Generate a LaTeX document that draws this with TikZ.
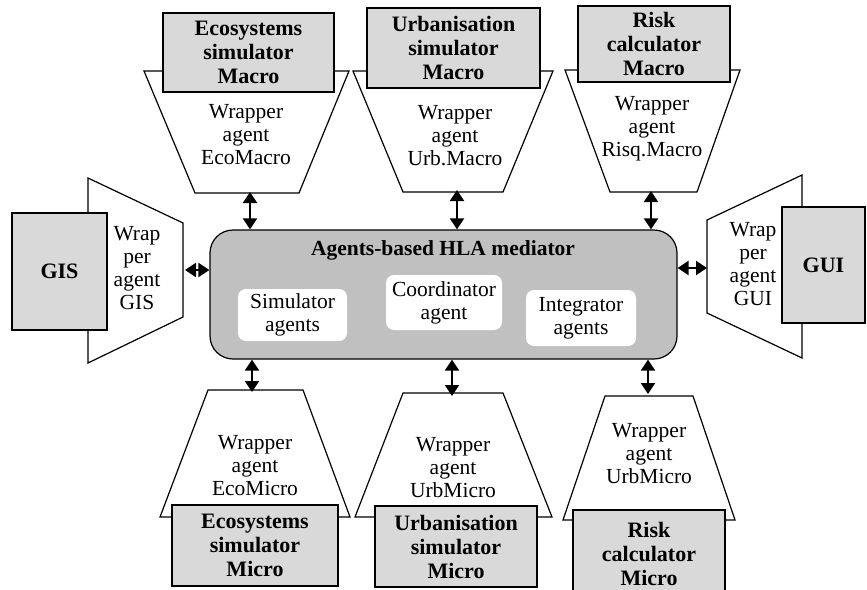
\documentclass[tikz,border=0pt]{standalone}
\usepackage{fontspec}
\setmainfont{Liberation Serif}
\usetikzlibrary{arrows.meta}
\definecolor{BoxGray}{HTML}{D9D9D9}
\definecolor{MedGray}{HTML}{C0C0C0}
\tikzset{every node/.style={font=\fontsize{21.5}{23}\selectfont},
 sim/.style={draw,fill=BoxGray,line width=1.2pt,align=center,inner sep=0pt,
 font=\fontsize{22}{24}\selectfont\bfseries},
 wrap/.style={draw,fill=white,line width=1.2pt,line join=miter},
 wraptext/.style={align=center,inner sep=0pt},
 agentbox/.style={fill=white,rounded corners=8pt,align=center,inner sep=0pt},
 link/.style={{Triangle[length=11pt,width=14pt]}-{Triangle[length=11pt,width=14pt]},line width=2pt}}

\begin{document}
\begin{tikzpicture}[x=1pt,y=-1pt]
\useasboundingbox (0,0) rectangle (867,589);
\draw[wrap] (144,71)--(349,71)--(299,193)--(195,193)--cycle;
\draw[wrap] (353,71)--(553,71)--(503,192)--(403,192)--cycle;
\draw[wrap] (565,70)--(740,70)--(697,192)--(610,192)--cycle;
\draw[wrap] (88,178)--(183,223)--(183,317)--(88,363)--cycle;
\draw[wrap] (802,175)--(707,220)--(707,313)--(802,358)--cycle;
\draw[wrap] (208,390)--(303,390)--(350,517)--(160,517)--cycle;
\draw[wrap] (403,393)--(503,393)--(552,517)--(355,517)--cycle;
\draw[wrap] (605,396)--(693,396)--(735,520)--(563,520)--cycle;
\coordinate (ecoMacroP) at (250,192);
\coordinate (urbMacroP) at (457,190);
\coordinate (riskMacroP) at (651,191);
\coordinate (gisP) at (185,270);
\coordinate (guiP) at (707,268);
\coordinate (ecoMicroP) at (252,392);
\coordinate (urbMicroP) at (452,396);
\coordinate (riskMicroP) at (648,394);
\node[sim,minimum width=171pt,minimum height=79pt] (ecoMacro) at (248.5,52.5) {Ecosystems\\simulator\\Macro};
\node[sim,minimum width=173pt,minimum height=80pt] (urbMacro) at (453.5,48) {Urbanisation\\simulator\\Macro};
\node[sim,minimum width=152pt,minimum height=76pt] (riskMacro) at (654,44) {Risk\\calculator\\Macro};
\node[sim,minimum width=95pt,minimum height=117pt] (gis) at (59.5,271.5) {GIS};
\node[sim,minimum width=83pt,minimum height=116pt] (gui) at (823.5,265) {GUI};
\node[sim,minimum width=166pt,minimum height=81pt] (ecoMicro) at (255,545.5) {Ecosystems\\simulator\\Micro};
\node[sim,minimum width=162pt,minimum height=81pt] (urbMicro) at (456,546.5) {Urbanisation\\simulator\\Micro};
\node[sim,minimum width=152pt,minimum height=88pt] (riskMicro) at (649,554) {Risk\\calculator\\Micro};
\node[wraptext] (ecoMacroW) at (246,135) {Wrapper\\agent\\EcoMacro};
\node[wraptext] (urbMacroW) at (455,135.5) {Wrapper\\agent\\Urb.Macro};
\node[wraptext] (riskMacroW) at (652,129) {Wrapper\\agent\\Risq.Macro};
\node[wraptext] (gisW) at (137,268) {Wrap\\per\\agent\\GIS};
\node[wraptext] (guiW) at (753,264) {Wrap\\per\\agent\\GUI};
\node[wraptext] (ecoMicroW) at (255,466) {Wrapper\\agent\\EcoMicro};
\node[wraptext] (urbMicroW) at (453,468) {Wrapper\\agent\\UrbMicro};
\node[wraptext] (riskMicroW) at (649,454) {Wrapper\\agent\\UrbMicro};
\node[draw,fill=MedGray,line width=1.2pt,rounded corners=23pt,minimum width=467pt,minimum height=129pt] (med) at (443.5,294.5) {};
\node[font=\fontsize{21.5}{24}\selectfont\bfseries] (medTitle) at (443,250) {Agents-based HLA mediator};
\node[agentbox,minimum width=109pt,minimum height=52pt] (simAg) at (292.5,315) {Simulator\\agents};
\node[agentbox,minimum width=116pt,minimum height=55pt] (coordAg) at (444,302.5) {Coordinator\\agent};
\node[agentbox,minimum width=110pt,minimum height=56pt] (integAg) at (581,318) {Integrator\\agents};
\draw[link] (ecoMacroP) -- (ecoMacroP |- med.north);
\draw[link] (urbMacroP) -- (urbMacroP |- med.north);
\draw[link] (riskMacroP) -- (riskMacroP |- med.north);
\draw[link] (gisP) -- (gisP -| med.west);
\draw[link] (guiP) -- (guiP -| med.east);
\draw[link] (ecoMicroP) -- (ecoMicroP |- med.south);
\draw[link] (urbMicroP) -- (urbMicroP |- med.south);
\draw[link] (riskMicroP) -- (riskMicroP |- med.south);
\end{tikzpicture}
\end{document}
